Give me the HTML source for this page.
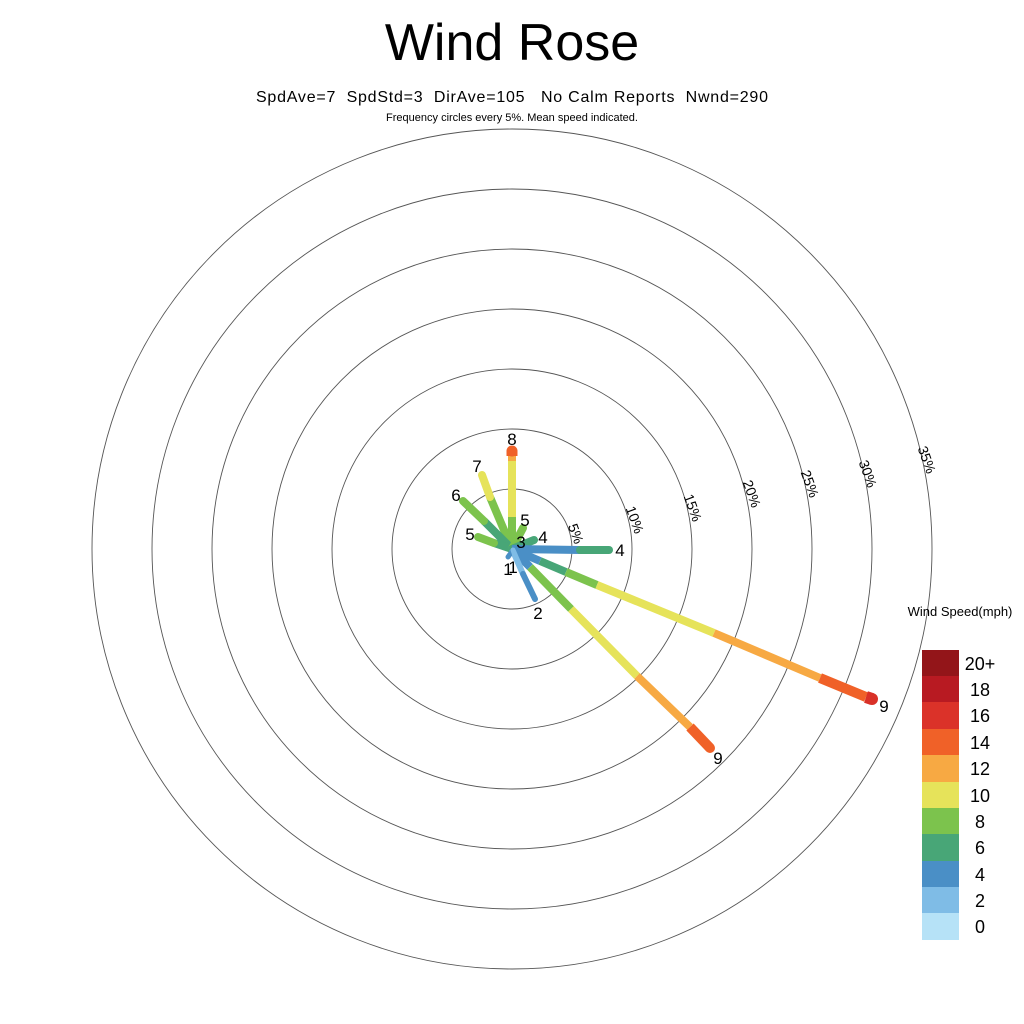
<!DOCTYPE html>
<html><head><meta charset="utf-8"><style>
html,body{margin:0;padding:0;background:#fff;}
svg{display:block;font-family:"Liberation Sans",sans-serif;}
</style></head><body>
<svg width="1024" height="1024" viewBox="0 0 1024 1024" xmlns="http://www.w3.org/2000/svg">
<rect width="1024" height="1024" fill="#fff"/>
<text x="512" y="60" font-size="52" text-anchor="middle">Wind Rose</text>
<text x="512" y="102" font-size="16" text-anchor="middle" textLength="512" xml:space="preserve">SpdAve=7  SpdStd=3  DirAve=105   No Calm Reports  Nwnd=290</text>
<text x="512" y="121" font-size="11" text-anchor="middle">Frequency circles every 5%. Mean speed indicated.</text>
<g fill="none" stroke="#555" stroke-width="0.9">
<circle cx="512" cy="549" r="60"/><circle cx="512" cy="549" r="120"/><circle cx="512" cy="549" r="180"/>
<circle cx="512" cy="549" r="240"/><circle cx="512" cy="549" r="300"/><circle cx="512" cy="549" r="360"/>
<circle cx="512" cy="549" r="420"/>
</g>
<g font-size="14" text-anchor="middle">
<text transform="translate(575,534) rotate(70)" dy="4">5%</text>
<text transform="translate(634,520) rotate(70)" dy="4">10%</text>
<text transform="translate(692,508) rotate(70)" dy="4">15%</text>
<text transform="translate(751,494) rotate(70)" dy="4">20%</text>
<text transform="translate(809,484) rotate(70)" dy="4">25%</text>
<text transform="translate(867,474) rotate(70)" dy="4">30%</text>
<text transform="translate(926,460) rotate(70)" dy="4">35%</text>
</g>
<g stroke-linecap="butt" stroke-width="8">
<!-- N -->
<line x1="512" y1="549" x2="512" y2="517" stroke="#7cc34d"/>
<line x1="512" y1="517" x2="512" y2="461" stroke="#e6e35a"/>
<line x1="512" y1="461" x2="512" y2="456" stroke="#f7a943"/>
<line x1="512" y1="456" x2="512" y2="451" stroke="#f06128" stroke-width="11"/>
<circle cx="512" cy="451" r="5.5" fill="#f06128" stroke="none"/>
<!-- 7 -->
<line x1="512" y1="549" x2="490" y2="497" stroke="#7cc34d"/>
<line x1="490" y1="497" x2="482" y2="475" stroke="#e6e35a" stroke-linecap="round"/>
<!-- 6 -->
<line x1="512" y1="549" x2="484" y2="521" stroke="#48a677"/>
<line x1="484" y1="521" x2="463" y2="501" stroke="#7cc34d" stroke-linecap="round"/>
<!-- 5 W -->
<line x1="512" y1="549" x2="494" y2="543" stroke="#48a677"/>
<line x1="494" y1="543" x2="478" y2="537" stroke="#7cc34d" stroke-linecap="round"/>
<!-- NNE 5 -->
<line x1="512" y1="549" x2="523" y2="528" stroke="#7cc34d" stroke-linecap="round"/>
<!-- NE 4 -->
<line x1="512" y1="549" x2="534" y2="540" stroke="#48a677" stroke-linecap="round"/>
<!-- E 4 -->
<line x1="512" y1="549" x2="580" y2="550" stroke="#4a8fc6"/>
<line x1="580" y1="550" x2="609" y2="550" stroke="#48a677" stroke-linecap="round"/>
<!-- ESE long -->
<line x1="512" y1="549" x2="540" y2="561" stroke="#4a8fc6"/>
<line x1="540" y1="561" x2="566" y2="572" stroke="#48a677"/>
<line x1="566" y1="572" x2="597" y2="585" stroke="#7cc34d"/>
<line x1="597" y1="585" x2="714" y2="633" stroke="#e6e35a"/>
<line x1="714" y1="633" x2="820" y2="678" stroke="#f7a943"/>
<line x1="820" y1="678" x2="866" y2="697" stroke="#f06128" stroke-width="10"/>
<line x1="866" y1="697" x2="872" y2="699" stroke="#d93128" stroke-width="12"/>
<circle cx="872" cy="699" r="6" fill="#d93128" stroke="none"/>
<!-- SE long -->
<line x1="512" y1="549" x2="530" y2="567" stroke="#4a8fc6"/>
<line x1="530" y1="567" x2="571" y2="609" stroke="#7cc34d"/>
<line x1="571" y1="609" x2="637" y2="676" stroke="#e6e35a"/>
<line x1="637" y1="676" x2="690" y2="727" stroke="#f7a943"/>
<line x1="690" y1="727" x2="710" y2="748" stroke="#f06128" stroke-width="10"/>
<circle cx="710" cy="748" r="5" fill="#f06128" stroke="none"/>
<!-- SSE 2 -->
<line x1="512" y1="549" x2="523" y2="574" stroke="#7fbce6" stroke-width="6"/>
<line x1="523" y1="574" x2="535" y2="599" stroke="#4a8fc6" stroke-width="6" stroke-linecap="round"/>
<!-- small 1s -->
<line x1="513" y1="550" x2="508" y2="557" stroke="#4a8fc6" stroke-width="5" stroke-linecap="round"/>
<line x1="513" y1="550" x2="515" y2="556" stroke="#7fbce6" stroke-width="5" stroke-linecap="round"/>
</g>
<g font-size="17" text-anchor="middle">
<text x="512" y="445">8</text>
<text x="477" y="472">7</text>
<text x="456" y="501">6</text>
<text x="470" y="540">5</text>
<text x="525" y="526">5</text>
<text x="543" y="543">4</text>
<text x="521" y="548">3</text>
<text x="620" y="556">4</text>
<text x="508" y="575">1</text>
<text x="513" y="573">1</text>
<text x="538" y="619">2</text>
<text x="884" y="712">9</text>
<text x="718" y="764">9</text>
</g>
<text x="960" y="616" font-size="13" text-anchor="middle">Wind Speed(mph)</text>
<g>
<rect x="922" y="650" width="37" height="27" fill="#931519"/>
<rect x="922" y="676" width="37" height="27" fill="#b81a22"/>
<rect x="922" y="702" width="37" height="27" fill="#db3229"/>
<rect x="922" y="729" width="37" height="27" fill="#f06128"/>
<rect x="922" y="755" width="37" height="27" fill="#f7a943"/>
<rect x="922" y="782" width="37" height="27" fill="#e6e35a"/>
<rect x="922" y="808" width="37" height="27" fill="#7cc34d"/>
<rect x="922" y="834" width="37" height="27" fill="#48a677"/>
<rect x="922" y="861" width="37" height="27" fill="#4a8fc6"/>
<rect x="922" y="887" width="37" height="27" fill="#7fbce6"/>
<rect x="922" y="913" width="37" height="27" fill="#b6e2f7"/>
</g>
<g font-size="18" text-anchor="middle">
<text x="980" y="670">20+</text>
<text x="980" y="696">18</text>
<text x="980" y="722">16</text>
<text x="980" y="749">14</text>
<text x="980" y="775">12</text>
<text x="980" y="802">10</text>
<text x="980" y="828">8</text>
<text x="980" y="854">6</text>
<text x="980" y="881">4</text>
<text x="980" y="907">2</text>
<text x="980" y="933">0</text>
</g>
</svg>
</body></html>
